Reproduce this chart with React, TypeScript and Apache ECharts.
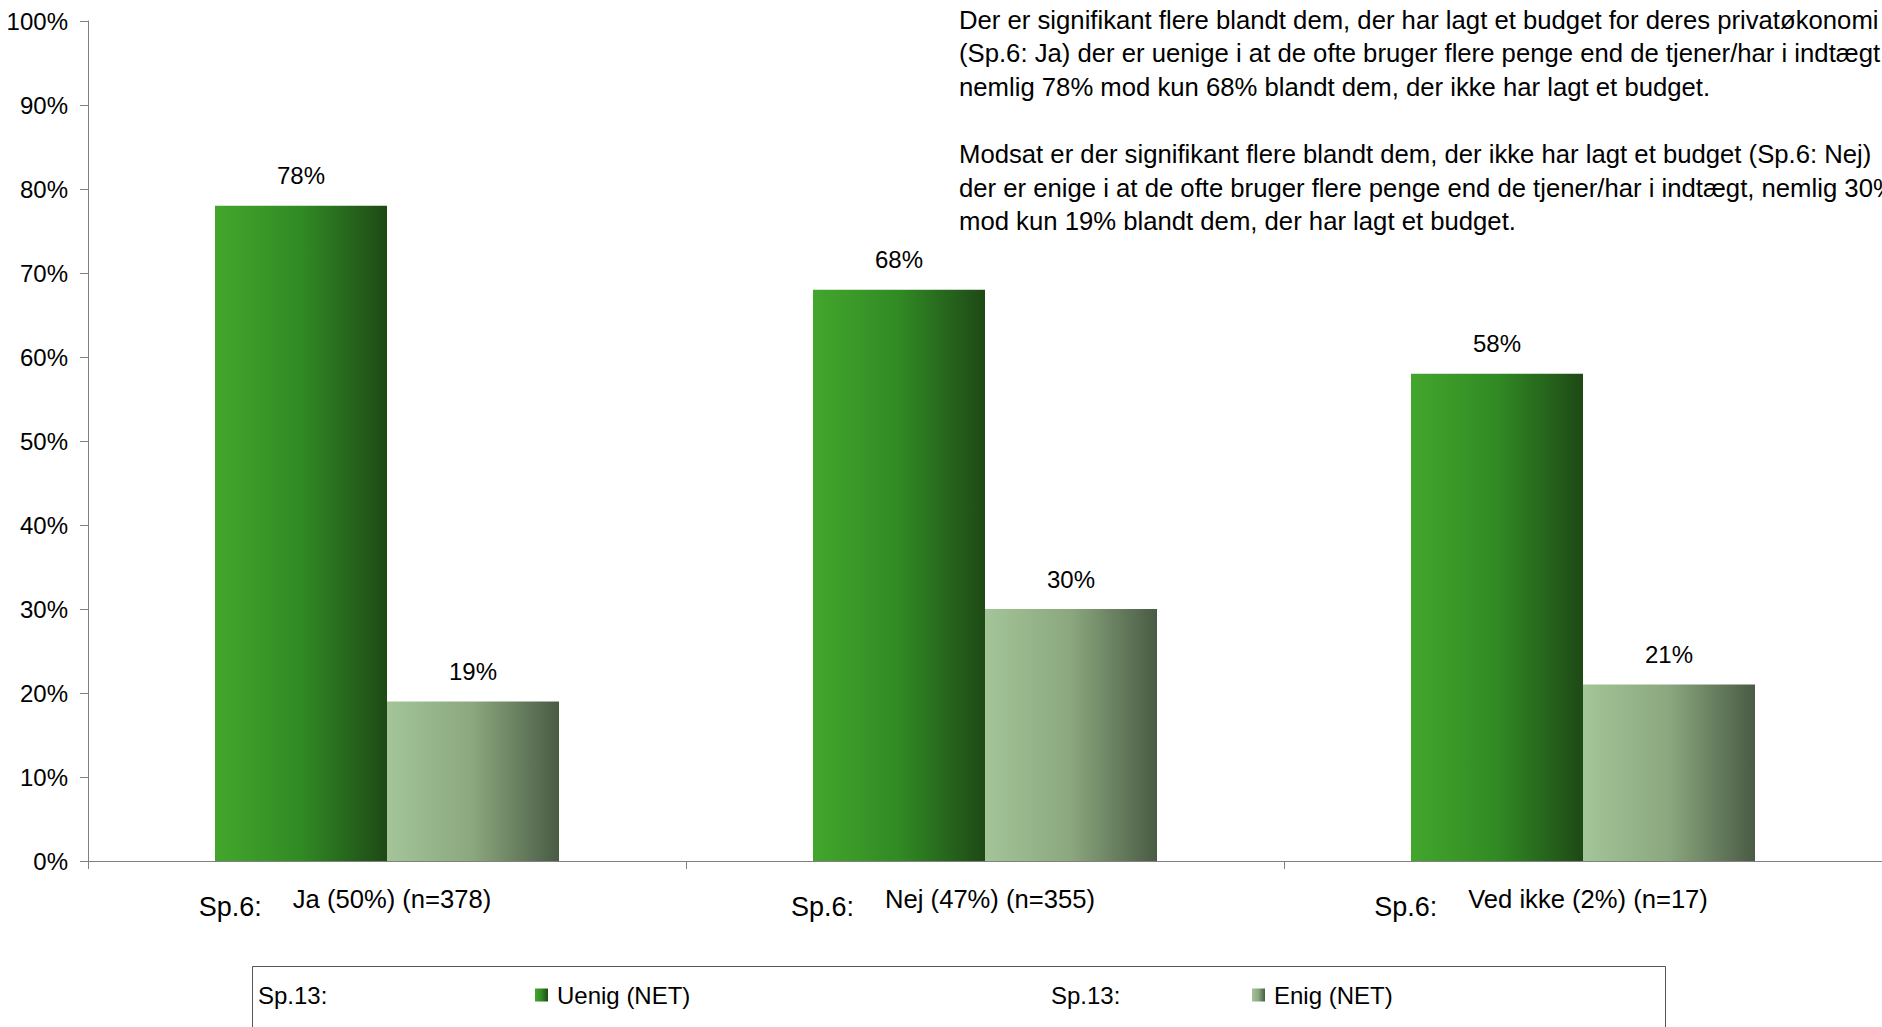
import React, { useEffect, useRef } from "react";
import * as echarts from "echarts";

const categories = ["Ja (50%) (n=378)", "Nej (47%) (n=355)", "Ved ikke (2%) (n=17)"];
const categoryPrefix = "Sp.6:";
const uenigValues = [78, 68, 58];
const enigValues = [19, 30, 21];
const seriesNames = ["Uenig (NET)", "Enig (NET)"];
const legendPrefix = "Sp.13:";
const yTicks = { min: 0, max: 100, interval: 10 };
const annotationLines = [
  "Der er signifikant flere blandt dem, der har lagt et budget for deres privatøkonomi",
  "(Sp.6: Ja) der er uenige i at de ofte bruger flere penge end de tjener/har i indtægt,",
  "nemlig 78% mod kun 68% blandt dem, der ikke har lagt et budget.",
  "",
  "Modsat er der signifikant flere blandt dem, der ikke har lagt et budget (Sp.6: Nej)",
  "der er enige i at de ofte bruger flere penge end de tjener/har i indtægt, nemlig 30%",
  "mod kun 19% blandt dem, der har lagt et budget.",
];

const FONT = "'Liberation Sans', Arial, sans-serif";

export default function App() {
  const ref = useRef<HTMLDivElement>(null);
  useEffect(() => {
    if (!ref.current) return;
    const chart = echarts.init(ref.current, undefined, { renderer: "svg" });
    const green = new echarts.graphic.LinearGradient(0, 0, 1, 0, [
      { offset: 0, color: "#43a62c" },
      { offset: 0.5, color: "#318a24" },
      { offset: 1, color: "#1e4916" },
    ]);
    const grey = new echarts.graphic.LinearGradient(0, 0, 1, 0, [
      { offset: 0, color: "#a3c598" },
      { offset: 0.5, color: "#8ba77e" },
      { offset: 1, color: "#495b44" },
    ]);
    const labelStyle = {
      show: true,
      position: "top" as const,
      distance: 18,
      formatter: "{c}%",
      color: "#000",
      fontSize: 24,
      fontFamily: FONT,
    };
    const legendBase = {
      top: 983,
      padding: 0,
      icon: "rect",
      itemWidth: 13,
      itemHeight: 13,
      textStyle: { color: "#000", fontSize: 24, fontFamily: FONT, padding: [0, 0, 0, 4] },
      selectedMode: false,
    };
    chart.setOption({
      animation: false,
      backgroundColor: "#fff",
      textStyle: { fontFamily: FONT },
      grid: { left: 88, right: 0, top: 21, bottom: 166, containLabel: false },
      legend: [
        { ...legendBase, data: [seriesNames[0]], left: 535 },
        { ...legendBase, data: [seriesNames[1]], left: 1252 },
      ],
      xAxis: {
        type: "category",
        data: categories,
        boundaryGap: true,
        axisLine: { lineStyle: { color: "#808080", width: 1 } },
        axisTick: { show: true, length: 8, lineStyle: { color: "#808080" } },
        axisLabel: {
          margin: 20,
          interval: 0,
          formatter: (v: string) => `{a|${categoryPrefix}}{b|${v}}`,
          rich: {
            a: { fontSize: 27, fontFamily: FONT, color: "#000", padding: [12, 31, 0, 0] },
            b: { fontSize: 25.6, fontFamily: FONT, color: "#000", padding: [0, 84, 4, 0] },
          },
        },
      },
      yAxis: {
        type: "value",
        min: yTicks.min,
        max: yTicks.max,
        interval: yTicks.interval,
        splitLine: { show: false },
        axisLine: { show: true, lineStyle: { color: "#808080", width: 1 } },
        axisTick: { show: true, length: 8, lineStyle: { color: "#808080" } },
        axisLabel: {
          formatter: "{value}%",
          color: "#000",
          fontSize: 24,
          fontFamily: FONT,
          margin: 20,
        },
      },
      series: [
        {
          name: seriesNames[0],
          type: "bar",
          data: uenigValues,
          barWidth: 172,
          barGap: "0%",
          itemStyle: { color: green },
          label: labelStyle,
        },
        {
          name: seriesNames[1],
          type: "bar",
          data: enigValues,
          barWidth: 172,
          barGap: "0%",
          itemStyle: { color: grey },
          label: labelStyle,
        },
      ],
      graphic: [
        {
          type: "text",
          left: 959,
          top: 3,
          style: {
            text: annotationLines.join("\n"),
            fontSize: 25.7,
            lineHeight: 33.6,
            fontFamily: FONT,
            fill: "#000",
          },
        },
        {
          type: "rect",
          shape: { x: 252.5, y: 966.5, width: 1413, height: 100 },
          style: { fill: "none", stroke: "#555", lineWidth: 1 },
        },
        {
          type: "text",
          left: 258,
          top: 983,
          style: { text: legendPrefix, fontSize: 24, fontFamily: FONT, fill: "#000" },
        },
        {
          type: "text",
          left: 1051,
          top: 983,
          style: { text: legendPrefix, fontSize: 24, fontFamily: FONT, fill: "#000" },
        },
      ],
    });
    return () => chart.dispose();
  }, []);
  return (
    <div
      ref={ref}
      style={{ position: "fixed", left: 0, top: 0, width: 1882, height: 1027 }}
    />
  );
}
